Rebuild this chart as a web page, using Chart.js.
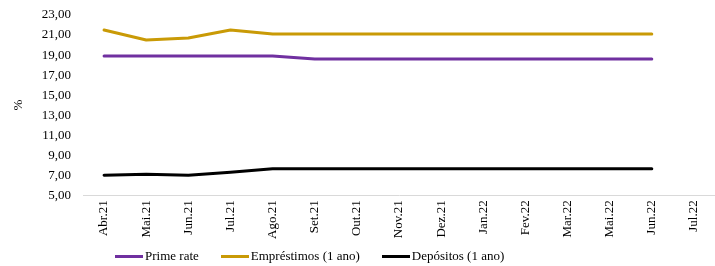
<!DOCTYPE html>
<html>
<head>
<meta charset="utf-8">
<script src="https://cdn.jsdelivr.net/npm/chart.js@4"></script>
<style>
  body { margin: 0; background: #fff; }
  #wrap { position: relative; width: 715px; height: 266px; }
  #legend { position: absolute; left: 115px; top: 248px; display: flex; font: 13px "Liberation Serif", serif; color: #000; }
  .item { display: flex; align-items: center; margin-right: 22px; }
  .swatch { width: 28px; height: 3px; margin-right: 2px; }
</style>
</head>
<body>
<div id="wrap">
  <canvas id="chart" width="715" height="266"></canvas>
  <div id="legend"></div>
</div>
<script>
const categories = ["Abr.21", "Mai.21", "Jun.21", "Jul.21", "Ago.21", "Set.21", "Out.21", "Nov.21", "Dez.21", "Jan.22", "Fev.22", "Mar.22", "Mai.22", "Jun.22", "Jul.22"];
const primeRate = [18.9, 18.9, 18.9, 18.9, 18.9, 18.6, 18.6, 18.6, 18.6, 18.6, 18.6, 18.6, 18.6, 18.6, null];
const emprestimos = [21.5, 20.5, 20.7, 21.5, 21.1, 21.1, 21.1, 21.1, 21.1, 21.1, 21.1, 21.1, 21.1, 21.1, null];
const depositos = [7.0, 7.1, 7.0, 7.3, 7.65, 7.65, 7.65, 7.65, 7.65, 7.65, 7.65, 7.65, 7.65, 7.65, null];
const seriesNames = ["Prime rate", "Empréstimos (1 ano)", "Depósitos (1 ano)"];
const seriesColors = ["#7030a0", "#c99a06", "#000000"];

const font = { family: "'Liberation Serif', serif", size: 13 };

const ctx = document.getElementById("chart").getContext("2d");
new Chart(ctx, {
  type: "line",
  data: {
    labels: categories,
    datasets: [primeRate, emprestimos, depositos].map((values, i) => ({
      label: seriesNames[i],
      data: values,
      borderColor: seriesColors[i],
      backgroundColor: seriesColors[i],
      borderWidth: 3,
      pointRadius: 0,
      tension: 0,
      borderJoinStyle: "round",
      borderCapStyle: "round",
      fill: false,
    })),
  },
  options: {
    responsive: false,
    animation: false,
    layout: { padding: { top: 15, right: 0, bottom: 22, left: 0 } },
    plugins: {
      legend: { display: false },
      tooltip: { enabled: false },
    },
    scales: {
      x: {
        offset: true,
        grid: { display: false, drawTicks: false },
        border: { display: true, color: "#d9d9d9", width: 1 },
        ticks: { color: "#000", font, minRotation: 90, maxRotation: 90, padding: 5, autoSkip: false },
      },
      y: {
        min: 5,
        max: 23,
        afterFit: (scale) => { scale.width = 83; scale.paddingTop = 0; scale.paddingBottom = 0; },
        grid: { display: false, drawTicks: false },
        border: { display: false },
        title: { display: true, text: "%", color: "#000", font, padding: { top: 11, bottom: 0 } },
        ticks: {
          stepSize: 2,
          autoSkip: false,
          color: "#000",
          font,
          padding: 12,
          callback: (v) => v.toFixed(2).replace(".", ","),
        },
      },
    },
  },
});

// legend below the chart
const legend = document.getElementById("legend");
seriesNames.forEach((name, i) => {
  const item = document.createElement("div");
  item.className = "item";
  const sw = document.createElement("span");
  sw.className = "swatch";
  sw.style.background = seriesColors[i];
  const txt = document.createElement("span");
  txt.textContent = name;
  item.appendChild(sw);
  item.appendChild(txt);
  legend.appendChild(item);
});
</script>
</body>
</html>
